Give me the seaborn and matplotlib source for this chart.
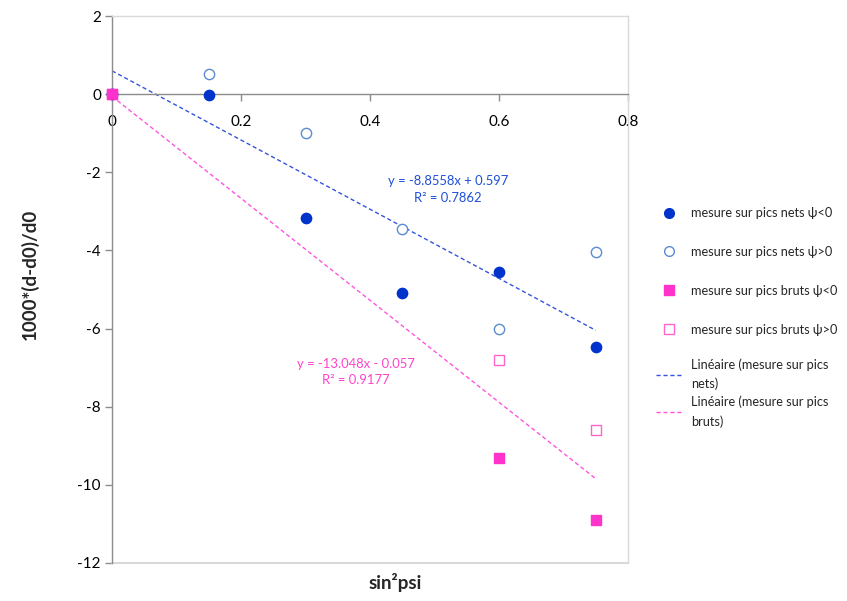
import numpy as np
import pandas as pd
import matplotlib.pyplot as plt
from matplotlib.lines import Line2D
import seaborn as sns

# Data
sin2psi = [0, 0.15, 0.3, 0.45, 0.6, 0.75]
nets_neg = [0, -0.03, -3.17, -5.1, -4.56, -6.48]
nets_pos = [0, 0.52, -1.0, -3.46, -6.0, -4.05]
bruts_x = [0, 0.6, 0.75]
bruts_neg = [0, -9.3, -10.9]
bruts_pos = [0, -6.8, -8.6]

# Trend lines as given by the equations on the chart
trend_names = ['nets', 'bruts']
trend_slopes = [-8.8558, -13.048]
trend_intercepts = [0.597, -0.057]
trend_eq = ['y = -8.8558x + 0.597\nR² = 0.7862', 'y = -13.048x - 0.057\nR² = 0.9177']

series_labels = ['mesure sur pics nets ψ<0', 'mesure sur pics nets ψ>0',
                 'mesure sur pics bruts ψ<0', 'mesure sur pics bruts ψ>0']
trend_labels = ['Linéaire (mesure sur pics\nnets)', 'Linéaire (mesure sur pics\nbruts)']

x_ticks = [0, 0.2, 0.4, 0.6, 0.8]
y_ticks = [-12, -10, -8, -6, -4, -2, 0, 2]


def main():
    sns.set_theme(style='white')
    plt.rcParams['font.family'] = ['Lato', 'DejaVu Sans']
    plt.rcParams['axes.unicode_minus'] = False

    df = pd.concat([
        pd.DataFrame({'x': sin2psi, 'y': nets_neg, 'serie': series_labels[0]}),
        pd.DataFrame({'x': sin2psi, 'y': nets_pos, 'serie': series_labels[1]}),
        pd.DataFrame({'x': bruts_x, 'y': bruts_neg, 'serie': series_labels[2]}),
        pd.DataFrame({'x': bruts_x, 'y': bruts_pos, 'serie': series_labels[3]}),
    ])

    blue = '#0033CC'
    blue_light = '#5B8BD0'
    pink = '#FF33CC'
    pink_light = '#FF66CC'
    line_cols = ['#3355DD', '#FF55DD']
    text_cols = ['#1F4FD8', '#FF44CC']

    # marker, face, edge, zorder for each series
    styles = [('o', blue, blue, 3.2), ('o', 'white', blue_light, 3.1),
              ('s', pink, pink, 3.4), ('s', 'white', pink_light, 3.3)]

    fig = plt.figure(figsize=(8.47, 6.01), dpi=100)
    ax = fig.add_axes([112 / 847, 1 - 563 / 601, (628 - 112) / 847, (563 - 16) / 601])

    # trend lines first, points on top
    xmax = max(sin2psi)
    xs = np.array([0, xmax])
    for i in range(len(trend_names)):
        ax.plot(xs, trend_slopes[i] * xs + trend_intercepts[i], color=line_cols[i],
                lw=1.0, linestyle=(0, (3, 2)), zorder=2)

    for lab, (m, fc, ec, z) in zip(series_labels, styles):
        sub = df[df['serie'] == lab]
        sns.scatterplot(data=sub, x='x', y='y', ax=ax, marker=m, s=55, clip_on=False,
                        facecolor=fc, edgecolor=ec, linewidth=1.0, zorder=z, legend=False)

    # equations
    ax.text(0.521, -2.44, trend_eq[0], color=text_cols[0], fontsize=9.4,
            ha='center', va='center', multialignment='center', linespacing=1.45)
    ax.text(0.378, -7.11, trend_eq[1], color=text_cols[1], fontsize=9.4,
            ha='center', va='center', multialignment='center', linespacing=1.45)

    ax.set_xlim(0, 0.8)
    ax.set_ylim(-12, 2)
    ax.set_xticks(x_ticks)
    ax.set_xticklabels(['%g' % v for v in x_ticks])
    ax.set_yticks(y_ticks)
    ax.set_yticklabels(['%g' % v for v in y_ticks])
    ax.set_xlabel('')
    ax.set_ylabel('')

    # Excel style axes: x axis crosses at y=0, light plot-area border
    axis_col = '#8C8C8C'
    border_col = '#D9D9D9'
    ax.spines['bottom'].set_position(('data', 0))
    ax.spines['bottom'].set_color(axis_col)
    ax.spines['left'].set_color(axis_col)
    ax.spines['top'].set_color(border_col)
    ax.spines['right'].set_color(border_col)
    for s in ax.spines.values():
        s.set_linewidth(1.0)
    ax.add_line(Line2D([0, 1], [0, 0], transform=ax.transAxes, color=border_col,
                       lw=1.5, clip_on=False))
    ax.tick_params(axis='x', direction='out', length=5, color=axis_col, width=1,
                   pad=10, labelsize=11, colors='black')
    ax.tick_params(axis='y', direction='out', length=5, color=axis_col, width=1,
                   pad=3, labelsize=11, colors='black')
    ax.tick_params(axis='both', bottom=True, left=True)
    ax.grid(False)

    fig.text(395 / 847, 1 - 583 / 601, 'sin²psi', fontsize=13.5, fontweight='bold',
             ha='center', va='center')
    fig.text(30 / 847, 1 - 274 / 601, '1000*(d-d0)/d0', fontsize=13.5, fontweight='bold',
             rotation=90, ha='center', va='center')

    # legends
    marker_handles = [Line2D([], [], linestyle='none', marker=m, markersize=7,
                             markerfacecolor=fc, markeredgecolor=ec, markeredgewidth=1.0)
                      for (m, fc, ec, z) in styles]
    line_handles = [Line2D([], [], color=c, lw=1.0, linestyle=(0, (3, 2))) for c in line_cols]

    common = dict(frameon=False, fontsize=9.2, handlelength=2.1, handletextpad=0.65,
                  borderpad=0, borderaxespad=0, loc='upper left')
    fig.legend(handles=marker_handles, labels=series_labels,
               bbox_to_anchor=(656 / 847, 1 - 207 / 601), labelspacing=2.1, **common)
    leg2 = fig.legend(handles=line_handles, labels=trend_labels,
                      bbox_to_anchor=(656 / 847, 1 - 358 / 601), labelspacing=0.45, **common)
    for t in leg2.get_texts():
        t.set_linespacing(1.65)

    fig.savefig('out.png', dpi=100)


if __name__ == "__main__":
    main()
